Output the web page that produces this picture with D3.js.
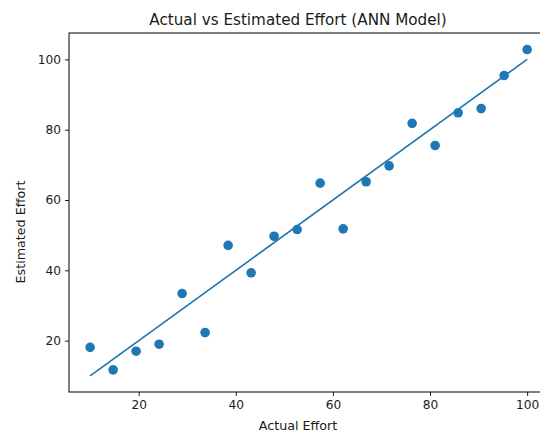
<!DOCTYPE html>
<html>
<head>
<meta charset="utf-8">
<title>Actual vs Estimated Effort</title>
<script src="https://cdn.jsdelivr.net/npm/d3@7"></script>
<style>
body{margin:0;background:#fff;}
svg text{font-family:"DejaVu Sans",sans-serif;fill:#1a1a1a;}
</style>
</head>
<body>
<div id="chart"></div>
<script>
var W=540,H=432;

// data
var actual=[10,14.74,19.47,24.21,28.95,33.68,38.42,43.16,47.89,52.63,57.37,62.11,66.84,71.58,76.32,81.05,85.79,90.53,95.26,100];
var estimated=[18.1,11.7,17.0,19.0,33.4,22.3,47.1,39.3,49.7,51.6,64.8,51.8,65.2,69.7,81.8,75.5,84.8,86.0,95.4,102.8];
var lineX=[10,100];
var lineY=[10,100];
var xTicks=[20,40,60,80,100];
var yTicks=[20,40,60,80,100];

var blue='#1f77b4';

// axes box (window.top is reserved, so other names)
var axL=69,axR=549,axT=33,axB=392;
var x=d3.scaleLinear().domain([5.65,104.5]).range([axL,axR]);
var y=d3.scaleLinear().domain([5.4,107.5]).range([axB,axT]);

var svg=d3.select('#chart').append('svg')
  .attr('width',W).attr('height',H);

// ideal line
var line=d3.line().x(function(d){return x(d[0]);}).y(function(d){return y(d[1]);});
svg.append('path')
  .datum(d3.zip(lineX,lineY))
  .attr('d',line)
  .attr('fill','none')
  .attr('stroke',blue)
  .attr('stroke-width',1.7);

// points
svg.append('g').selectAll('circle')
  .data(d3.zip(actual,estimated))
  .enter().append('circle')
  .attr('cx',function(d){return x(d[0]);})
  .attr('cy',function(d){return y(d[1]);})
  .attr('r',4.8)
  .attr('fill',blue);

// axes
var xAxis=svg.append('g').attr('transform','translate(0,'+axB+')')
  .call(d3.axisBottom(x).tickValues(xTicks).tickSize(4).tickPadding(4).tickSizeOuter(0));
var yAxis=svg.append('g').attr('transform','translate('+axL+',0)')
  .call(d3.axisLeft(y).tickValues(yTicks).tickSize(4).tickPadding(4).tickSizeOuter(0));
[xAxis,yAxis].forEach(function(a){
  a.select('.domain').remove();
  a.selectAll('line').attr('stroke','#000').attr('stroke-width',0.9);
  a.selectAll('text').style('font-size','12.2px').attr('fill','#1a1a1a');
});

// spines
svg.append('rect')
  .attr('x',axL).attr('y',axT)
  .attr('width',axR-axL).attr('height',axB-axT)
  .attr('fill','none').attr('stroke','#000').attr('stroke-width',1);

// titles
svg.append('text').attr('x',298).attr('y',25)
  .attr('text-anchor','middle').style('font-size','15.2px')
  .text('Actual vs Estimated Effort (ANN Model)');
svg.append('text').attr('x',298).attr('y',430)
  .attr('text-anchor','middle').style('font-size','12.7px')
  .text('Actual Effort');
svg.append('text')
  .attr('transform','translate(25,232) rotate(-90)')
  .attr('text-anchor','middle').style('font-size','12.7px')
  .text('Estimated Effort');
</script>
</body>
</html>
